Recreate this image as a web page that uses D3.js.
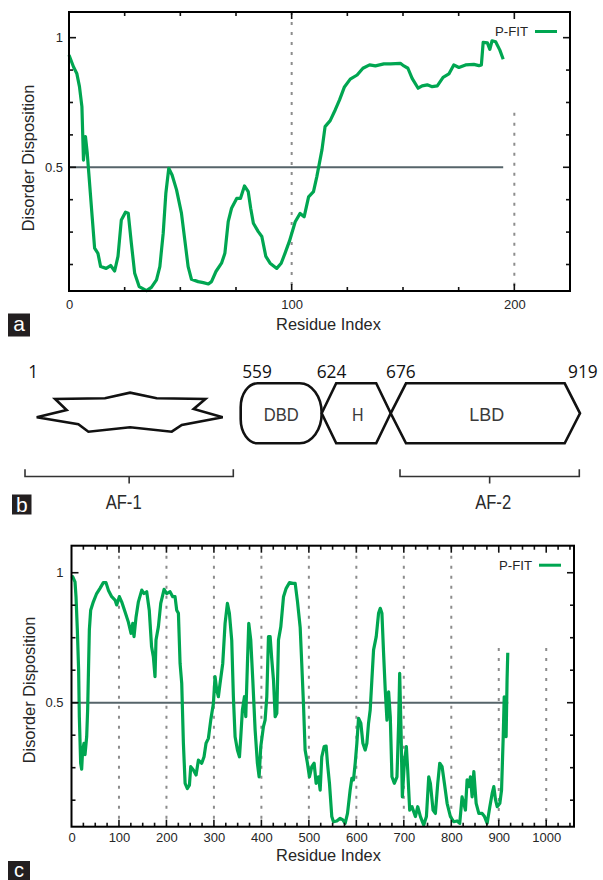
<!DOCTYPE html>
<html>
<head>
<meta charset="utf-8">
<script src="https://cdn.jsdelivr.net/npm/d3@7"></script>
<style>
  html, body { margin: 0; padding: 0; background: #fff; }
  svg { display: block; }
</style>
</head>
<body>
<svg id="fig" width="603" height="880"></svg>
<script>
// ---------------- DATA ----------------
// Panel a: disorder profile (residue, disorder disposition)
const profileA = [
  [0,0.933],[2,0.888],[3.5,0.862],[4.7,0.811],[5.8,0.734],[6.5,0.528],[7.4,0.618],[8.2,0.554],
  [8.9,0.477],[10.4,0.31],[11.5,0.188],[13,0.168],[14.2,0.117],[16.7,0.11],[18.7,0.121],[20.5,0.10],
  [22,0.156],[23.5,0.297],[25.4,0.327],[26.6,0.323],[28,0.207],[29.5,0.091],[31.5,0.04],[34.8,0.024],
  [37,0.037],[39.3,0.066],[40.8,0.117],[42.3,0.245],[43.5,0.4],[44.8,0.496],[46.3,0.47],[48.3,0.413],
  [50.5,0.323],[52,0.22],[53.5,0.117],[55,0.068],[58,0.059],[60.3,0.055],[62.6,0.05],[64,0.059],
  [66,0.098],[68.5,0.13],[70,0.168],[71.5,0.29],[73,0.342],[75.3,0.38],[77,0.38],[78.8,0.428],
  [80.5,0.406],[81.6,0.342],[82.8,0.284],[85,0.252],[86.6,0.233],[88.4,0.156],[90.3,0.13],[93.3,0.11],
  [95.3,0.13],[97,0.168],[99,0.215],[101.6,0.29],[103.8,0.322],[105.6,0.309],[107.6,0.386],[109.8,0.406],
  [111.3,0.464],[113.6,0.567],[115,0.657],[117.3,0.68],[119.6,0.722],[121.5,0.76],[123.7,0.81],[126.3,0.84],
  [129.4,0.856],[132,0.882],[135,0.895],[137.6,0.891],[141.4,0.899],[144.4,0.899],[148.8,0.901],[150.4,0.891],
  [152.2,0.882],[154.1,0.843],[156.8,0.805],[158.6,0.814],[160.9,0.818],[163.1,0.811],[165.4,0.814],[168,0.847],
  [170.6,0.86],[172.8,0.895],[175.1,0.885],[178.1,0.895],[181.8,0.897],[184.1,0.892],[185.2,0.895],[186,0.982],
  [187.9,0.98],[189,0.955],[190,0.988],[191.6,0.984],[193.5,0.952],[195,0.917]
];
const lengthA = 195;

// Panel c: disorder profile of the full-length protein (residue, disorder disposition)
const profileC = [
  [1,0.98],[2.5,0.985],[7.4,0.965],[9.5,0.908],[12.3,0.78],[15,0.626],[16.5,0.446],[19.3,0.267],
  [21.4,0.244],[23.5,0.318],[26.3,0.344],[28.5,0.3],[32,0.37],[34,0.472],[37.6,0.78],[40.4,0.856],
  [46,0.888],[53,0.92],[60,0.94],[67,0.962],[72.7,0.962],[77.6,0.933],[84.7,0.908],[91.7,0.895],
  [95.2,0.876],[100.8,0.908],[105.7,0.888],[112.7,0.85],[119.8,0.81],[125.4,0.767],[129,0.805],[131.7,0.754],
  [136,0.83],[140.9,0.888],[148,0.933],[152.8,0.92],[158.4,0.927],[163.8,0.856],[168.7,0.715],[172.4,0.677],
  [175.9,0.6],[178,0.741],[183,0.792],[188,0.882],[195,0.936],[200.6,0.92],[207.6,0.927],[213.2,0.908],
  [218.1,0.908],[221.6,0.856],[225.2,0.844],[228.7,0.651],[232.2,0.574],[235.7,0.344],[239.3,0.19],[244.1,0.17],
  [248.4,0.183],[251.2,0.254],[256.7,0.241],[262.4,0.222],[267.3,0.279],[274.3,0.267],[279.2,0.292],[283.4,0.344],
  [288.4,0.363],[293.3,0.433],[298.9,0.497],[302.4,0.6],[305.9,0.549],[309.4,0.523],[312.9,0.574],[318.6,0.651],
  [323.5,0.805],[328.4,0.882],[332.6,0.844],[337.5,0.741],[341,0.523],[344.6,0.369],[349.5,0.318],[353.8,0.292],
  [356.6,0.369],[360,0.472],[364.3,0.523],[367.1,0.446],[370.6,0.651],[373.4,0.805],[377.6,0.741],[381.9,0.587],
  [386.8,0.395],[391.6,0.267],[395.2,0.215],[398.7,0.331],[404.3,0.408],[407.8,0.433],[411.4,0.523],[414.9,0.754],
  [418.4,0.754],[422,0.664],[425.5,0.587],[429,0.446],[432.5,0.459],[436,0.741],[440.9,0.792],[446.6,0.908],
  [452.2,0.94],[459.2,0.962],[466.2,0.959],[471.2,0.959],[476.1,0.888],[481.7,0.79],[485,0.651],[488.6,0.497],
  [492.1,0.318],[497,0.267],[501.2,0.215],[506.2,0.254],[511.1,0.267],[515.3,0.19],[520.2,0.215],[523.8,0.164],
  [527.2,0.292],[532.2,0.331],[536.4,0.333],[539.2,0.267],[543.4,0.19],[548.3,0.062],[551.8,0.042],[558.8,0.045],
  [565.9,0.055],[571.5,0.049],[576.4,0.036],[581.4,0.074],[587,0.164],[590.5,0.209],[594,0.203],[597.6,0.267],
  [601.1,0.344],[604.6,0.44],[609.5,0.421],[613.8,0.344],[618.6,0.318],[622.2,0.344],[625.7,0.421],[629.2,0.472],
  [632.7,0.587],[636.3,0.703],[641.9,0.754],[646.8,0.844],[650.4,0.863],[653.9,0.844],[657.4,0.69],[660.9,0.549],
  [664.5,0.433],[668,0.542],[671.5,0.446],[675,0.215],[680,0.19],[685.6,0.215],[689.1,0.421],[691.3,0.613],
  [694.1,0.395],[696.9,0.138],[701.1,0.267],[705.4,0.331],[708.2,0.241],[712.4,0.087],[717.3,0.1],[724.4,0.062],
  [729.3,0.1],[735,0.062],[742,0.029],[747.6,0.062],[752.5,0.215],[756,0.19],[761.6,0.087],[766.5,0.074],
  [771.5,0.19],[775.7,0.267],[780.6,0.254],[785.5,0.19],[791.2,0.113],[798.2,0.062],[805.2,0.042],[812.2,0.045],
  [817.8,0.036],[822.7,0.138],[826.3,0.113],[829.8,0.087],[833.3,0.203],[836.9,0.177],[840.4,0.215],[843.9,0.138],
  [847.5,0.235],[852.4,0.113],[858,0.074],[865,0.074],[870,0.062],[875.6,0.036],[881.2,0.1],[886.1,0.151],
  [889.6,0.177],[893.2,0.126],[896.7,0.1],[902.3,0.113],[905.9,0.164],[909.4,0.369],[911.5,0.523],[913.5,0.395],
  [915.5,0.369],[917.5,0.587],[919,0.692]
];
const lengthC = 919;

const threshold = 0.5;
const seriesName = "P-FIT";
const yTickLabels = [0.5, 1];
const xTickLabelsA = [0, 100, 200];
const xTickLabelsC = [0, 100, 200, 300, 400, 500, 600, 700, 800, 900, 1000];
const gridA = [100, 200];
const gridC = [100, 200, 300, 400, 500, 600, 700, 800, 900, 1000];

// Panel b: domain architecture
const boundaries = [1, 559, 624, 676, 919];
const domainNames = ["DBD", "H", "LBD"];
const afRegions = [{name: "AF-1", from: 1, to: 559}, {name: "AF-2", from: 676, to: 919}];

// ---------------- DRAWING ----------------
const svg = d3.select("#fig");
const FONT = "'Liberation Sans', Arial, Helvetica, sans-serif";
const GREEN = "#00a651";
const TXT = "#262626";
svg.append("rect").attr("width", 603).attr("height", 880).attr("fill", "#fff");

function panelLabel(x, y, w, h, letter, fs, base) {
  svg.append("rect").attr("x", x).attr("y", y).attr("width", w).attr("height", h).attr("fill", "#231f20");
  svg.append("text").attr("x", x + w / 2).attr("y", base).attr("text-anchor", "middle")
    .attr("font-family", FONT).attr("font-size", fs).attr("fill", "#fff").text(letter);
}

function profilePanel(o) {
  const g = svg.append("g");
  const x = d3.scaleLinear().domain(o.xDomain).range([o.left, o.right]);
  const y = d3.scaleLinear().domain(o.yDomain).range([o.bottom, o.top]);

  // dotted grid lines
  g.selectAll(".grid").data(o.grid).join("line")
    .attr("x1", d => x(d)).attr("x2", d => x(d))
    .attr("y1", d => x(d) > o.right - 90 ? y(0.71) : o.top)
    .attr("y2", o.bottom)
    .attr("stroke", "#8c8c8c").attr("stroke-width", 2).attr("stroke-dasharray", "3,7");

  // threshold line
  g.append("line").attr("x1", x(0)).attr("x2", x(o.length))
    .attr("y1", y(threshold)).attr("y2", y(threshold))
    .attr("stroke", "#56646a").attr("stroke-width", 2);

  // profile
  const line = d3.line().x(d => x(d[0])).y(d => y(d[1]));
  g.append("path").datum(o.data).attr("d", line)
    .attr("fill", "none").attr("stroke", GREEN).attr("stroke-width", 3.2)
    .attr("stroke-linejoin", "round");

  // ticks (mirrored, inward)
  const xMinor = d3.range(25, o.xDomain[1], 25);
  const yMinor = d3.range(0.125, 1.0001, 0.125);
  const tickLen = v => (Math.abs(v % 100) < 1e-6 ? 7 : 4);
  const ytickLen = v => (yTickLabels.some(t => Math.abs(t - v) < 1e-6) ? 7 : 4);
  const tk = g.append("g").attr("stroke", "#111").attr("stroke-width", 1.6);
  xMinor.forEach(v => {
    tk.append("line").attr("x1", x(v)).attr("x2", x(v)).attr("y1", o.bottom).attr("y2", o.bottom - tickLen(v));
    tk.append("line").attr("x1", x(v)).attr("x2", x(v)).attr("y1", o.top).attr("y2", o.top + tickLen(v));
  });
  yMinor.forEach(v => {
    tk.append("line").attr("x1", o.left).attr("x2", o.left + ytickLen(v)).attr("y1", y(v)).attr("y2", y(v));
    tk.append("line").attr("x1", o.right).attr("x2", o.right - ytickLen(v)).attr("y1", y(v)).attr("y2", y(v));
  });

  // frame
  g.append("rect").attr("x", o.left).attr("y", o.top)
    .attr("width", o.right - o.left).attr("height", o.bottom - o.top)
    .attr("fill", "none").attr("stroke", "#000").attr("stroke-width", 2);

  // axes labels
  const ax = g.append("g").attr("transform", `translate(0,${o.bottom})`)
    .call(d3.axisBottom(x).tickValues(o.xLabels).tickFormat(d3.format("d")).tickSize(0).tickPadding(o.xPad));
  ax.select(".domain").remove();
  ax.selectAll("text").attr("font-family", FONT).attr("font-size", 13).attr("fill", TXT);

  const ay = g.append("g").attr("transform", `translate(${o.left},0)`)
    .call(d3.axisLeft(y).tickValues(yTickLabels).tickFormat(d3.format("~g")).tickSize(0).tickPadding(o.yPad));
  ay.select(".domain").remove();
  ay.selectAll("text").attr("font-family", FONT).attr("font-size", 13).attr("fill", TXT);

  // titles
  g.append("text").attr("x", 328.5).attr("y", o.xTitleY).attr("text-anchor", "middle")
    .attr("font-family", FONT).attr("font-size", 16.4).attr("fill", TXT).text("Residue Index");
  g.append("text").attr("transform", `translate(${o.yTitleX},${o.yTitleCY}) rotate(-90)`)
    .attr("text-anchor", "middle").attr("font-family", FONT).attr("font-size", 16.4)
    .attr("fill", TXT).text("Disorder Disposition");

  // legend
  g.append("text").attr("x", o.right - 42).attr("y", o.top + 24).attr("text-anchor", "end")
    .attr("font-family", FONT).attr("font-size", 13.2).attr("fill", TXT).text(seriesName);
  g.append("line").attr("x1", o.right - 35).attr("x2", o.right - 13)
    .attr("y1", o.top + 19.5).attr("y2", o.top + 19.5)
    .attr("stroke", GREEN).attr("stroke-width", 3);
}

// Panel a
profilePanel({
  left: 69, right: 570, top: 12, bottom: 291,
  xDomain: [0, 225], yDomain: [0.0228, 1.099],
  data: profileA, length: lengthA, grid: gridA, xLabels: xTickLabelsA,
  xPad: 8.5, yPad: 6, xTitleY: 330, yTitleX: 34, yTitleCY: 158
});
panelLabel(8, 313.5, 22, 23, "a", 21, 331);

// Panel c
profilePanel({
  left: 71.5, right: 574, top: 545.7, bottom: 826.7,
  xDomain: [0, 1058.5], yDomain: [0.023, 1.104],
  data: profileC, length: 920, grid: gridC, xLabels: xTickLabelsC,
  xPad: 6, yPad: 8, xTitleY: 860.7, yTitleX: 35, yTitleCY: 690
});
panelLabel(8, 861, 22, 20, "c", 20, 877);

// Panel b: domain schematic
const bx = d3.scaleLinear().domain(boundaries).range([36.7, 240.7, 321.7, 390.7, 580]);
const yT = 383.3, yB = 443.3, yM = (yT + yB) / 2;
const gb = svg.append("g");

// residue boundary labels
const labelShift = [-8.5, 1.5, -5, -4.7, -12];
gb.selectAll(".num").data(boundaries).join("text")
  .attr("x", (d, i) => bx(d) + labelShift[i]).attr("y", 378)
  .attr("font-family", "'Open Sans', 'Liberation Sans', Arial, sans-serif").attr("font-size", 17.5)
  .attr("fill", "#111")
  .attr("textLength", (d) => String(d).length * 9.9).attr("lengthAdjust", "spacingAndGlyphs")
  .text(d => d);

// AF-1 disordered region star
const sx = d3.scaleLinear().domain([0, 1]).range([bx(1), bx(559) - 18]);
const starPts = [
  [0.000, 417.3], [0.161, 410], [0.099, 399], [0.367, 398.3], [0.502, 392.7], [0.645, 398.3],
  [0.907, 399], [0.844, 409], [1.000, 417.3], [0.780, 425], [0.726, 431.7], [0.502, 427.3],
  [0.278, 431.7], [0.224, 424.3]
];
gb.append("path")
  .attr("d", d3.line().x(d => sx(d[0])).y(d => d[1]).curve(d3.curveLinearClosed)(starPts))
  .attr("fill", "#fff").attr("stroke", "#111").attr("stroke-width", 2.6).attr("stroke-linejoin", "miter");

// DBD rounded box
{
  const x0 = bx(559), x1 = bx(624), r1x = 17, r1y = 24, r2x = 22, r2y = (yB - yT) / 2;
  const d = `M${x0 + r1x},${yT} L${x1 - r2x},${yT} A${r2x},${r2y} 0 0 1 ${x1 - r2x},${yB} ` +
            `L${x0 + r1x},${yB} A${r1x},${r1y} 0 0 1 ${x0},${yB - r1y} L${x0},${yT + r1y} ` +
            `A${r1x},${r1y} 0 0 1 ${x0 + r1x},${yT} Z`;
  gb.append("path").attr("d", d).attr("fill", "#fff").attr("stroke", "#111").attr("stroke-width", 2.6);
}
// H hinge hexagon
{
  const x0 = bx(624), x1 = bx(676), dx = 14.5;
  gb.append("path").attr("d", d3.line()([[x0, yM], [x0 + dx, yT], [x1 - dx, yT], [x1, yM], [x1 - dx, yB], [x0 + dx, yB]]) + "Z")
    .attr("fill", "none").attr("stroke", "#111").attr("stroke-width", 2.6).attr("stroke-linejoin", "miter");
}
// LBD arrow
{
  const x0 = bx(676), x1 = bx(919), dx = 15.3;
  gb.append("path").attr("d", d3.line()([[x0, yM], [x0 + dx, yT], [x1 - dx, yT], [x1, yM], [x1 - dx, yB], [x0 + dx, yB]]) + "Z")
    .attr("fill", "none").attr("stroke", "#111").attr("stroke-width", 2.6).attr("stroke-linejoin", "miter");
}
// domain names
const nameX = [bx(559) + 40.5, (bx(624) + bx(676)) / 2 + 1.5, (bx(676) + bx(919)) / 2 + 1.5];
const nameW = [35, 11.5, 35];
gb.selectAll(".dn").data(domainNames).join("text")
  .attr("x", (d, i) => nameX[i]).attr("y", 420.5).attr("text-anchor", "middle")
  .attr("font-family", FONT).attr("font-size", 19).attr("fill", "#3a3a3a")
  .attr("textLength", (d, i) => nameW[i]).attr("lengthAdjust", "spacingAndGlyphs")
  .text(d => d);

// AF brackets
const brX = [[25, 233.3], [400, 579.3]];
afRegions.forEach((r, i) => {
  const [a, b] = brX[i], c = (a + b) / 2;
  gb.append("path")
    .attr("d", `M${a},469.3 L${a},476.5 L${b},476.5 L${b},469.3 M${c},476.5 L${c},483.5`)
    .attr("fill", "none").attr("stroke", "#333").attr("stroke-width", 1.6);
  gb.append("text").attr("x", c - 5.5 + i * 9).attr("y", 508.5).attr("text-anchor", "middle")
    .attr("font-family", FONT).attr("font-size", 21).attr("fill", "#2a2a2a")
    .attr("textLength", 36).attr("lengthAdjust", "spacingAndGlyphs").text(r.name);
});
panelLabel(12, 494.5, 19.5, 20, "b", 21, 511.5);
</script>
</body>
</html>
